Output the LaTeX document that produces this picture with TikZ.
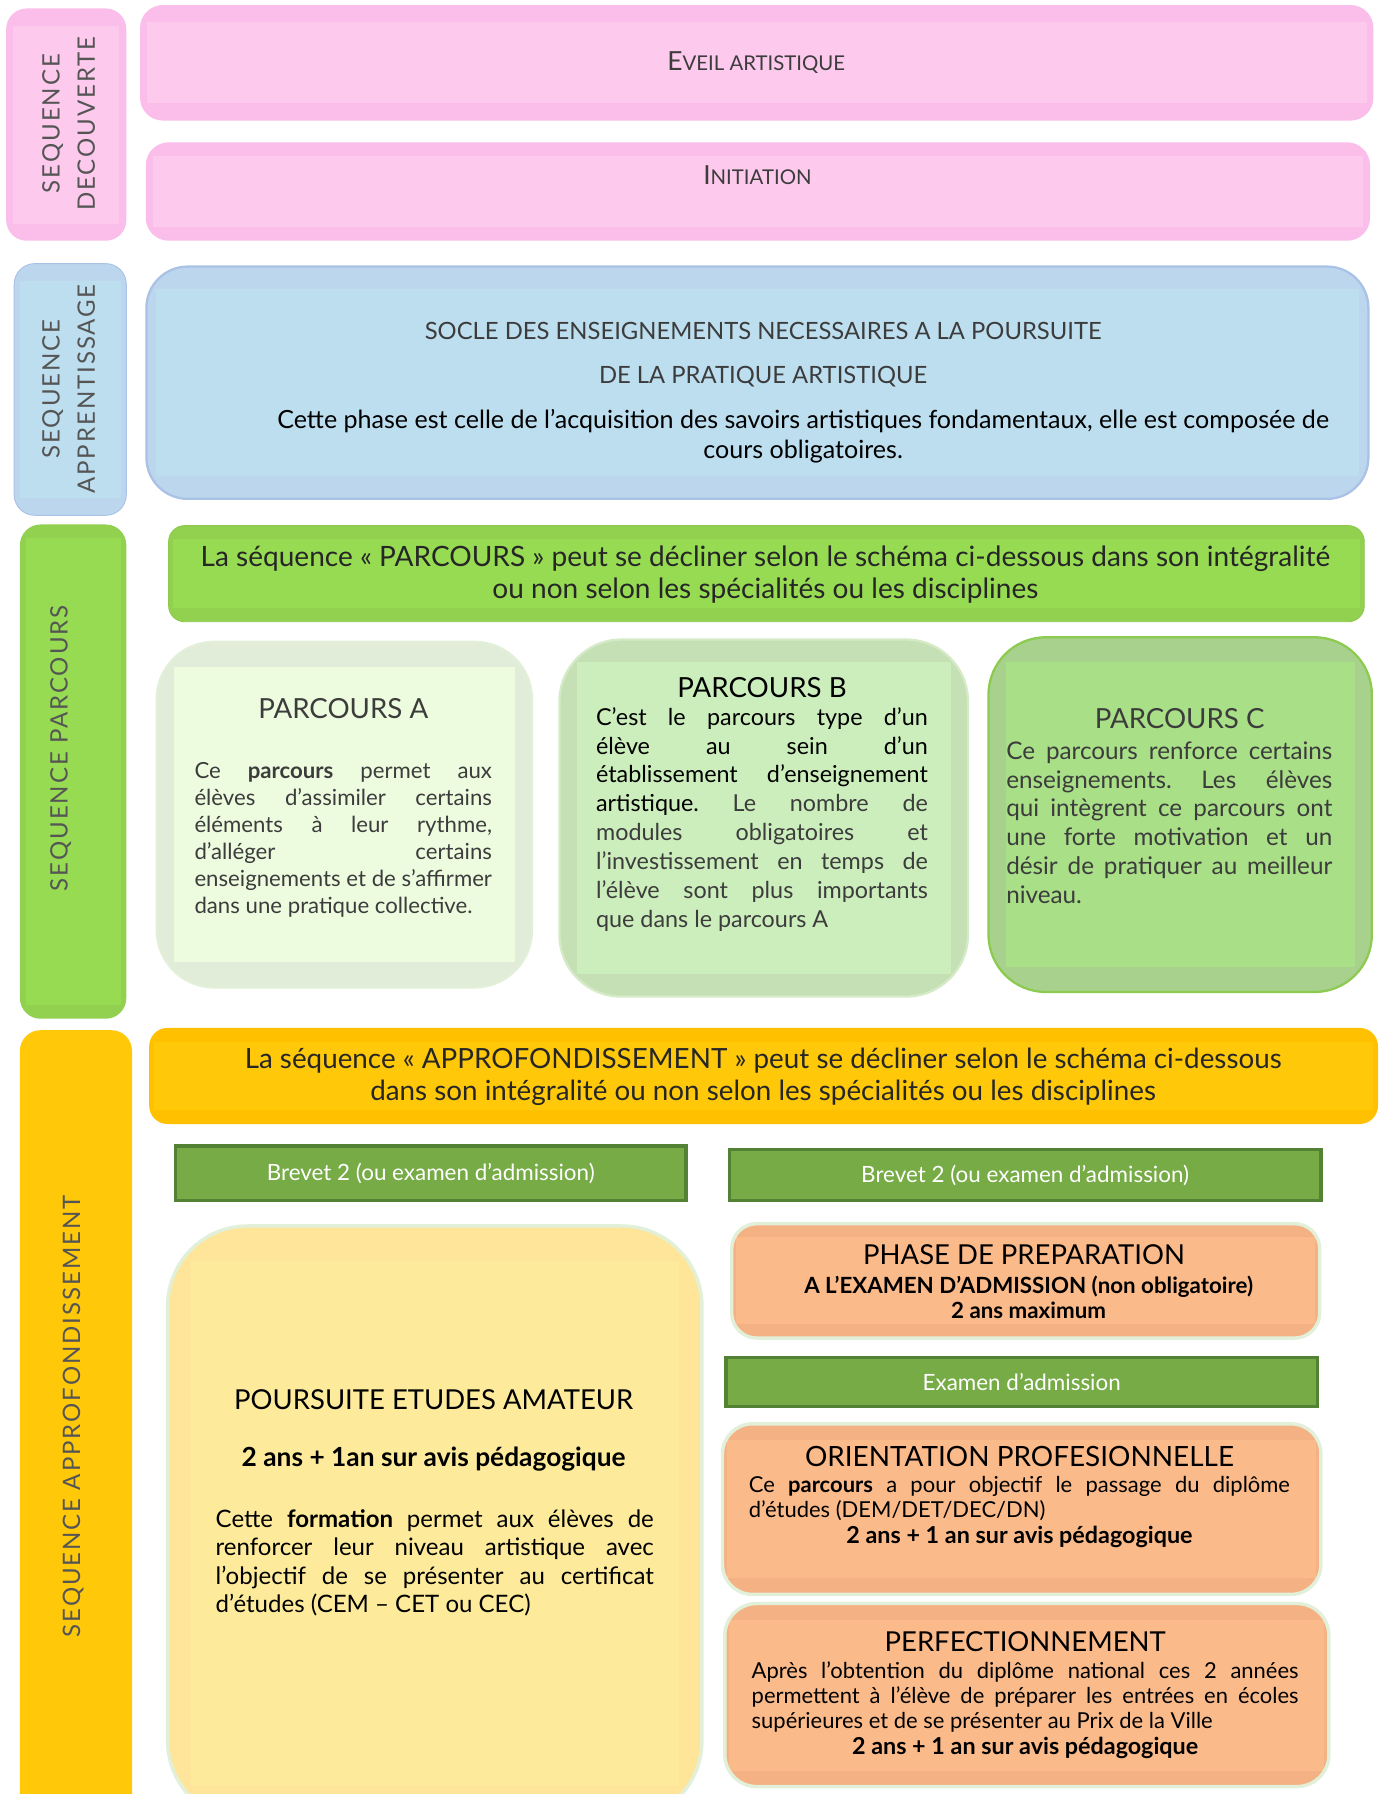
\documentclass[tikz,border=0pt]{standalone}
\usepackage{fontspec}
\setmainfont{Lato}
\newfontfamily\sidefont[LetterSpace=8]{Lato}
\hyphenpenalty=10000
\exhyphenpenalty=10000
\frenchspacing

\definecolor{pinkout}{HTML}{FBBDEA}
\definecolor{pinkin}{HTML}{FDC9EC}
\definecolor{blueout}{HTML}{BCD6EE}
\definecolor{bluein}{HTML}{BDDEEF}
\definecolor{blueline}{HTML}{A9C2E5}
\definecolor{grnout}{HTML}{92D050}
\definecolor{grnin}{HTML}{97DB53}
\definecolor{grnline}{HTML}{8CC94C}
\definecolor{paout}{HTML}{E2EDD9}
\definecolor{pain}{HTML}{EDFCDF}
\definecolor{pbout}{HTML}{C5E0B4}
\definecolor{pbin}{HTML}{CCEEBC}
\definecolor{pbline}{HTML}{D5EAC7}
\definecolor{pcout}{HTML}{A9D18E}
\definecolor{pcin}{HTML}{A9DF87}
\definecolor{pcline}{HTML}{8CCB4F}
\definecolor{yelout}{HTML}{FFC000}
\definecolor{yelin}{HTML}{FFC90A}
\definecolor{barfill}{HTML}{76AB45}
\definecolor{barline}{HTML}{548235}
\definecolor{poursout}{HTML}{FEE59A}
\definecolor{poursin}{HTML}{FDEB9B}
\definecolor{lightline}{HTML}{E2EFD9}
\definecolor{orout}{HTML}{F4B183}
\definecolor{orin}{HTML}{FBBA8A}
\definecolor{sidegray}{HTML}{555555}
\definecolor{txtgray}{HTML}{3C3C3C}

\tikzset{
  box/.style={rounded corners=#1, inner sep=0pt, anchor=north west},
  sz/.style 2 args={minimum width=#1*0.5pt, minimum height=#2*0.5pt},
  inset/.style n args={3}{path picture={\fill[#1, sharp corners]
    ([xshift=#2*0.5pt,yshift=-#3*0.5pt]path picture bounding box.north west) rectangle
    ([xshift=-#2*0.5pt,yshift=#3*0.5pt]path picture bounding box.south east);}},
  side/.style={rotate=90, font=\sidefont\fontsize{10.5}{15.5}\selectfont, text=sidegray, align=center},
  txt/.style={text=txtgray, align=center, inner sep=0pt},
  para/.style={text=txtgray, align=justify, text width=#1*0.5pt, inner sep=0pt},
  bar/.style={fill=barfill, draw=barline, line width=1.5pt, inner sep=0pt, anchor=north west,
    text=white, font=\fontsize{9.8}{11}\selectfont},
}

\begin{document}
\begin{tikzpicture}[x=0.5pt,y=-0.5pt]
\useasboundingbox (0,0) rectangle (1206,1568);
\clip (0,0) rectangle (1206,1568);

% sequence decouverte
\node[box=9pt, sz={105}{203}, fill=pinkout, inset={pinkin}{6}{15}] (sdec) at (5,7) {};
\node[side] (sdectxt) at (60,108) {SEQUENCE\\DECOUVERTE};
\node[box=10pt, sz={1078}{101}, fill=pinkout, inset={pinkin}{6}{15}] (eveil) at (122,4) {};
\node[txt, font=\fontsize{8.9}{11}\selectfont] (eveiltxt) at (661,55) {{\fontsize{11.5}{13}\selectfont E}VEIL ARTISTIQUE};
\node[box=10pt, sz={1070}{86}, fill=pinkout, inset={pinkin}{6}{12}] (init) at (127,124) {};
\node[txt, font=\fontsize{8.9}{11}\selectfont] (inittxt) at (662,153) {{\fontsize{11.5}{13}\selectfont I}NITIATION};

% sequence apprentissage
\node[box=9pt, sz={98}{220}, fill=blueout, draw=blueline, inset={bluein}{5}{15}] (sapp) at (12,230) {};
\node[side] (sapptxt) at (60,340) {SEQUENCE\\APPRENTISSAGE};
\node[box=18pt, sz={1068}{203}, fill=blueout, draw=blueline, line width=1pt, inset={bluein}{8}{20}] (socle) at (127,232) {};
\node[txt, font=\fontsize{10.4}{19.5}\selectfont] (socletxt) at (667,310) {SOCLE DES ENSEIGNEMENTS NECESSAIRES A LA POURSUITE\\DE LA PRATIQUE ARTISTIQUE};
\node[txt, text=black, font=\fontsize{10.95}{13}\selectfont] (cettetxt) at (702,381) {Cette phase est celle de l’acquisition des savoirs artistiques fondamentaux, elle est composée de\\cours obligatoires.};

% sequence parcours
\node[box=9pt, sz={93}{432}, fill=grnout, inset={grnin}{5}{12}] (spar) at (17,458) {};
\node[side, text=sidegray] (spartxt) at (53,654) {SEQUENCE PARCOURS};
\node[box=7pt, sz={1045}{84}, fill=grnout, draw=grnline, inset={grnin}{4}{12}] (parban) at (147,459) {};
\node[txt, text=black!85, font=\fontsize{12.25}{14}\selectfont] (parbantxt) at (669,502) {La séquence « PARCOURS » peut se décliner selon le schéma ci-dessous dans son intégralité\\ou non selon les spécialités ou les disciplines};

\node[box=25pt, sz={328}{302}, fill=paout, draw=lightline, line width=1pt, inset={pain}{15}{22}] (pa) at (136,560) {};
\node[txt, font=\fontsize{12.1}{14}\selectfont] (patitle) at (300,619) {PARCOURS A};
\node[para=260, font=\fontsize{9.7}{11.8}\selectfont] (patxt) at (300,734) {Ce \textbf{parcours} permet aux\linebreak élèves d’assimiler certains\linebreak éléments à leur rythme,\linebreak d’alléger certains\linebreak enseignements et de s’affirmer\linebreak dans une pratique collective.};

\node[box=27pt, sz={357}{312}, fill=pbout, draw=pbline, line width=1pt, inset={pbin}{15}{20}] (pb) at (488,558) {};
\node[txt, text=black, font=\fontsize{12.1}{14}\selectfont] (pbtitle) at (666,601) {PARCOURS B};
\node[para=290, font=\fontsize{10.2}{12.6}\selectfont] (pbtxt) at (666,716) {\textcolor{black}{C’est le parcours type d’un\linebreak élève au sein d’un\linebreak établissement d’enseignement\linebreak artistique.} Le nombre de\linebreak modules obligatoires et\linebreak l’investissement en temps de\linebreak l’élève sont plus importants\linebreak que dans le parcours A};

\node[box=25pt, sz={335}{310}, fill=pcout, draw=pcline, line width=1pt, inset={pcin}{15}{22}] (pc) at (863,556) {};
\node[txt, font=\fontsize{12.1}{14}\selectfont] (pctitle) at (1031,628) {PARCOURS C};
\node[para=285, font=\fontsize{10.6}{12.6}\selectfont] (pctxt) at (1022,719) {Ce parcours renforce certains\linebreak enseignements. Les élèves\linebreak qui intègrent ce parcours ont\linebreak une forte motivation et un\linebreak désir de pratiquer au meilleur\linebreak niveau.};

% sequence approfondissement
\node[box=9pt, sz={98}{690}, fill=yelin, inset={yelin}{5}{12}] (sappr) at (17,900) {};
\node[side] (sapprtxt) at (64,1238) {SEQUENCE APPROFONDISSEMENT};
\node[box=8pt, sz={1074}{84}, fill=yelout, inset={yelin}{4}{12}] (appban) at (130,898) {};
\node[txt, text=black!85, font=\fontsize{12.15}{14}\selectfont] (appbantxt) at (667,941) {La séquence « APPROFONDISSEMENT » peut se décliner selon le schéma ci-dessous\\dans son intégralité ou non selon les spécialités ou les disciplines};

\node[bar, sz={446}{48}] (brev1) at (152,1000) {Brevet 2 (ou examen d’admission)};
\node[bar, sz={517}{45}] (brev2) at (636,1003) {Brevet 2 (ou examen d’admission)};

\node[box=35pt, sz={467}{520}, fill=poursout, draw=lightline, line width=1.5pt, inset={poursin}{20}{31}] (pours) at (145,1070) {};
\node[txt, text=black, font=\fontsize{12}{14}\selectfont] (poursttl) at (379,1223) {POURSUITE ETUDES AMATEUR};
\node[txt, text=black, font=\bfseries\fontsize{11.5}{13}\selectfont] (poursans) at (379,1275) {2 ans + 1an sur avis pédagogique};
\node[para=383, text=black, font=\fontsize{10.5}{12.5}\selectfont] (poursstxt) at (380,1366) {Cette \textbf{formation} permet aux élèves de\linebreak renforcer leur niveau artistique avec\linebreak l’objectif de se présenter au certificat\linebreak d’études (CEM – CET ou CEC)};

\node[box=11pt, sz={514}{100}, fill=orout, draw=lightline, line width=1.5pt, inset={orin}{4}{12}] (prep) at (638,1068) {};
\node[txt, text=black, font=\fontsize{12}{14}\selectfont] (prepttl) at (895,1097) {PHASE DE PREPARATION};
\node[txt, text=black, font=\bfseries\fontsize{9.75}{11}\selectfont] (preptxt) at (899,1134) {A L’EXAMEN D’ADMISSION (non obligatoire)\\2 ans maximum};

\node[bar, sz={517}{43}] (exam) at (633,1185) {Examen d’admission};

\node[box=13pt, sz={523}{149}, fill=orout, draw=lightline, line width=1.5pt, inset={orin}{4}{14}] (orient) at (630,1243) {};
\node[txt, text=black, font=\fontsize{12.2}{14}\selectfont] (orientttl) at (891,1273) {ORIENTATION PROFESIONNELLE};
\node[para=473, text=black, font=\fontsize{9.6}{11}\selectfont] (orienttxt) at (891,1310) {Ce \textbf{parcours} a pour objectif le passage du diplôme\linebreak d’études (DEM/DET/DEC/DN)};
\node[txt, text=black, font=\bfseries\fontsize{10.2}{11}\selectfont] (orientans) at (891,1343) {2 ans + 1 an sur avis pédagogique};

\node[box=14pt, sz={528}{160}, fill=orout, draw=lightline, line width=1.5pt, inset={orin}{4}{14}] (perf) at (632,1400) {};
\node[txt, text=black, font=\fontsize{12}{14}\selectfont] (perfttl) at (896,1435) {PERFECTIONNEMENT};
\node[para=478, text=black, font=\fontsize{9.6}{11}\selectfont] (perftxt) at (896,1483) {Après l’obtention du diplôme national ces 2 années\linebreak permettent à l’élève de préparer les entrées en écoles\linebreak supérieures et de se présenter au Prix de la Ville};
\node[txt, text=black, font=\bfseries\fontsize{10.2}{11}\selectfont] (perfans) at (896,1528) {2 ans + 1 an sur avis pédagogique};
\end{tikzpicture}
\end{document}
